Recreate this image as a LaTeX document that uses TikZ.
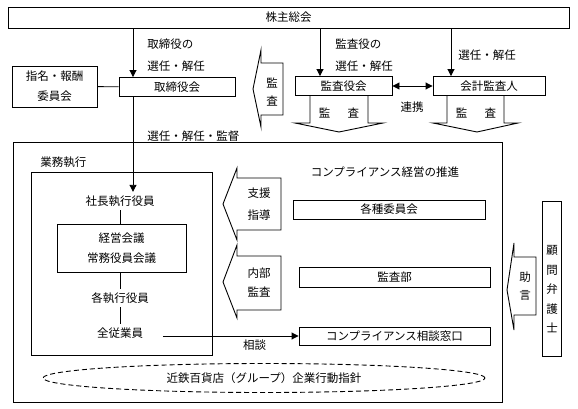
\documentclass[tikz,border=0pt]{standalone}
\usepackage{fontspec}
\newfontfamily\jp{Noto Sans CJK JP}
\usetikzlibrary{positioning}
\usetikzlibrary{arrows.meta}
\usetikzlibrary{shapes.geometric}
\tikzset{tips=proper}
\tikzset{%
    box/.style={rectangle, draw, inner sep=0pt},
    note/.style={inner sep=0pt, align=left},
    arrow/.style={draw, {-Triangle[length=7pt,width=7pt]}},
    callout/.style={draw, line join=miter}
}

\begin{document}
\begin{tikzpicture}[x=1pt,y=-1pt,line width=0.9pt]
		\tikzstyle{every node}=[font=\jp\fontsize{11.5}{22}\selectfont]
		\useasboundingbox (0,0) rectangle (578,409);

		% top row
		\node[box,minimum width=561pt,minimum height=21pt]	(meeting)	at (288.5,17.5)	{株主総会};
		\node[box,minimum width=116pt,minimum height=19pt]	(board)		at (177,87)		{取締役会};
		\node[box,minimum width=85pt,minimum height=41pt,align=center,font=\jp\fontsize{11.5}{20}\selectfont]
															(nomination) at (54.5,86.5)	{指名・報酬\\委員会};
		\node[box,minimum width=97pt,minimum height=19pt]	(auditboard) at (343.5,86)	{監査役会};
		\node[box,minimum width=112pt,minimum height=19pt]	(accountant) at (489,86)	{会計監査人};

		\coordinate (ax) at (133,0);
		\coordinate (bx) at (320,0);
		\coordinate (cx) at (451,0);

		\draw[arrow] (ax |- meeting.south) -- (ax |- board.north);
		\draw[arrow] (bx |- meeting.south) -- (bx |- auditboard.north);
		\draw[arrow] (cx |- meeting.south) -- (cx |- accountant.north);
		\draw (nomination) -- (board);
		\draw[{Triangle[length=7pt,width=7pt]}-{Triangle[length=7pt,width=7pt]}] (auditboard) -- (accountant);

		\node[note,anchor=west]	(electboard)	at (147,55)		{取締役の\\選任・解任};
		\node[note,anchor=west]	(electaudit)	at (335,55)		{監査役の\\選任・解任};
		\node[note,anchor=west]	(electacc)		at (458,55)		{選任・解任};
		\node					(liaison)		at (412,107)	{連携};
		\node[note,anchor=west]	(supervise)		at (147,136)	{選任・解任・監督};

		% audit callouts
		\draw[callout] (261,50) -- (261,63) -- (283,63) -- (283,115) -- (261,115) -- (261,127) -- (253,89) -- cycle;
		\node[align=center,font=\jp\fontsize{11.5}{18}\selectfont] (auditleft) at (272,92) {監\\査};
		\draw[callout] (310,0 |- auditboard.south) -- (310,123) -- (295,123) -- (339,132) -- (383,123) -- (368,123) -- (368,0 |- auditboard.south);
		\node (auditdown1) at (339,113) {監\hspace{1.5em}査};
		\draw[callout] (447,0 |- accountant.south) -- (447,123) -- (433,123) -- (477,132) -- (518,123) -- (504,123) -- (504,0 |- accountant.south);
		\node (auditdown2) at (476,113) {監\hspace{1.5em}査};

		% company frame
		\node[box,minimum width=489pt,minimum height=260pt]	(company)	at (257.5,272)	{};
		\node[box,minimum width=181pt,minimum height=183pt]	(execution)	at (121.5,263.5) {};
		\node[note,anchor=west]	(exectitle)	at (40,162)	{業務執行};

		\node						(president)	at (120,201)	{社長執行役員};
		\node[box,minimum width=129pt,minimum height=48pt,align=center,font=\jp\fontsize{11.5}{20}\selectfont]
									(management) at (121.5,248)	{経営会議\\常務役員会議};
		\node						(officers)	at (120,298)	{各執行役員};
		\node						(staff)		at (120,333)	{全従業員};

		\draw[arrow] (ax |- board.south) -- (ax |- president.north);
		\draw (president.south) -- (president.south |- management.north);
		\draw (officers.north |- management.south) -- (officers.north);
		\draw (officers.south) -- (staff.north);

		% compliance
		\node					(promotion)		at (385,172)	{コンプライアンス経営の推進};
		\node[box,minimum width=192pt,minimum height=19pt]	(committees)	at (389,209.5)	{各種委員会};
		\node[box,minimum width=191pt,minimum height=20pt]	(auditdept)		at (394.5,277)	{監査部};
		\node[box,minimum width=191pt,minimum height=18pt]	(desk)			at (394.5,336)	{コンプライアンス相談窓口};

		\draw[arrow,shorten <=16pt] (staff.east |- desk.west) -- node[below,pos=0.71] {相談} (desk.west);

		\draw[callout] (237,168) -- (237,178) -- (281,178) -- (281,230) -- (237,230) -- (237,240) -- (223,204) -- cycle;
		\node[align=center] (support) at (259,204) {支援\\指導};
		\draw[callout] (237,245) -- (237,256) -- (281,256) -- (281,310) -- (237,310) -- (237,318) -- (223,282) -- cycle;
		\node[align=center,font=\jp\fontsize{11.5}{19}\selectfont] (internal) at (259,282.5) {内部\\監査};

		% lawyer
		\node[box,minimum width=19pt,minimum height=155pt]	(lawyer)	at (551.5,278.5)	{};
		\node[align=center,inner sep=0pt,font=\jp\fontsize{11.5}{19.5}\selectfont] (lawyertext) at (552,289.5) {顧\\問\\弁\\護\\士};
		\draw[callout] (514,243) -- (514,257) -- (536,257) -- (536,315) -- (514,315) -- (514,330) -- (507,290) -- cycle;
		\node[align=center,font=\jp\fontsize{11.5}{18}\selectfont] (advice) at (525,286) {助\\言};

		% guideline
		\node[draw,dash pattern=on 5pt off 3pt,ellipse,inner sep=0pt,minimum width=442pt,minimum height=29pt]
								(guideline)	at (264,378)	{近鉄百貨店（グループ）企業行動指針};
	\end{tikzpicture}
\end{document}
